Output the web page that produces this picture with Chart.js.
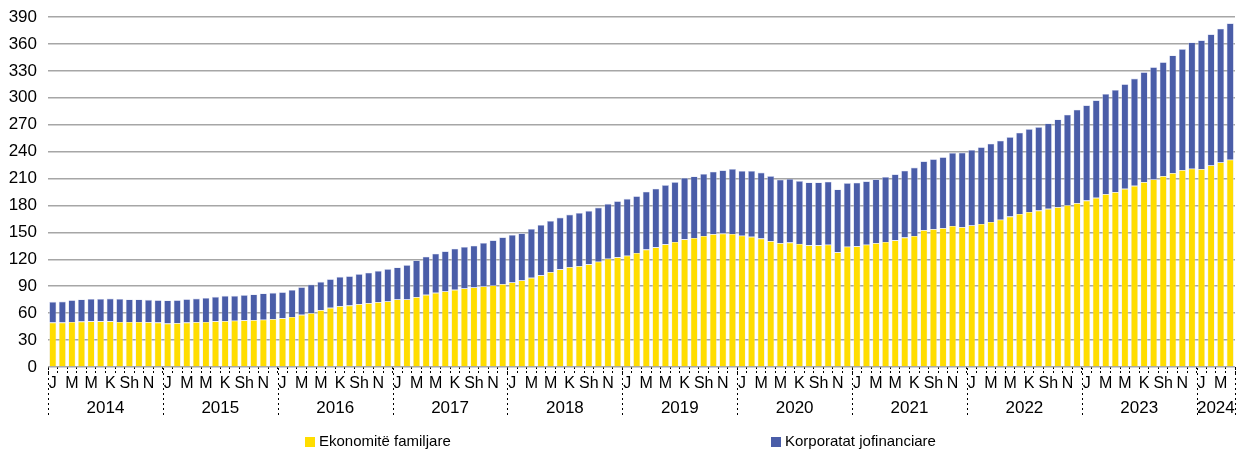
<!DOCTYPE html>
<html>
<head>
<meta charset="utf-8">
<script src="https://cdn.jsdelivr.net/npm/chart.js@4.4.1/dist/chart.umd.min.js"></script>
<style>
  html, body { margin: 0; padding: 0; background: #fff; }
  #wrap { position: relative; width: 1245px; height: 455px; }
  #c { position: absolute; left: 0; top: 0; }
  .lg { position: absolute; top: 432px; font: 15px "Liberation Sans", Arial, sans-serif; color: #000; white-space: nowrap; }
  .lg span.box { display: inline-block; width: 10px; height: 10px; margin-right: 4px; vertical-align: -1px; }
</style>
</head>
<body>
<div id="wrap">
  <canvas id="c" width="1245" height="455"></canvas>
  <div class="lg" style="left:305px"><span class="box" style="background:#FFDD00"></span>Ekonomitë familjare</div>
  <div class="lg" style="left:771px"><span class="box" style="background:#4A5DA8"></span>Korporatat jofinanciare</div>
</div>
<script>
// ---- data ----
const years = ['2014','2015','2016','2017','2018','2019','2020','2021','2022','2023','2024'];
const monthTicks = ['J','','M','','M','','K','','Sh','','N',''];
const monthCount = 124; // Jan 2014 .. Apr 2024

const households = [
  49.5,49.5,50.2,50.6,50.9,50.9,50.9,50.2,50.2,50.2,49.9,49.5,
  48.4,48.8,49.5,49.9,50.2,50.9,51.2,51.6,52.0,52.3,52.7,53.4,
  54.2,55.8,58.1,59.9,63.3,65.9,67.8,68.5,70.0,71.1,72.2,73.0,
  75.2,75.2,77.8,80.4,82.7,84.2,86.0,87.5,88.6,89.7,90.9,92.4,
  94.2,96.5,99.4,102.1,105.8,108.8,111.4,112.5,114.4,117.4,120.7,122.2,
  124.1,127.1,130.8,133.4,136.7,139.4,142.3,143.8,146.1,148.0,148.7,148.2,
  146.3,145.0,143.1,140.1,137.9,138.6,137.1,135.6,135.6,136.3,127.8,134.1,
  134.5,136.3,137.9,139.4,141.2,144.2,146.1,152.4,153.5,154.6,157.2,155.7,
  157.8,159.4,161.6,164.2,167.6,170.6,172.8,174.3,176.2,178.1,180.3,182.5,
  185.5,188.5,192.6,194.8,198.5,201.9,206.0,209.0,212.7,216.1,219.4,220.9,
  220.5,224.6,228.0,231.0
];
const corporates = [
  23.1,23.4,24.2,24.6,25.0,25.0,25.4,25.7,25.0,25.0,24.9,24.9,
  25.7,25.6,26.1,26.4,26.8,27.3,28.1,27.7,28.1,28.5,29.3,29.3,
  29.1,30.0,30.8,32.0,31.6,32.0,32.7,32.7,33.5,33.9,35.0,36.1,
  35.8,38.4,41.0,42.5,43.6,44.7,45.8,46.2,46.6,48.5,50.3,52.1,
  52.9,52.5,54.4,56.2,57.0,57.7,58.5,59.2,59.6,60.3,61.1,62.6,
  63.3,63.3,64.5,65.2,66.0,66.7,68.3,68.6,69.0,69.7,70.5,72.5,
  72.1,73.4,73.5,72.7,70.8,70.9,70.1,70.1,70.1,70.2,70.1,70.9,
  70.9,70.6,71.2,72.3,73.5,74.6,76.1,76.8,78.0,79.1,81.3,83.2,
  84.0,85.6,87.2,87.9,88.6,90.4,92.3,93.0,95.2,97.8,100.8,104.2,
  106.1,108.7,111.7,113.9,116.6,119.5,122.5,125.1,127.0,131.1,134.9,140.8,
  143.5,146.1,149.0,152.0
];
const seriesNames = ['Ekonomitë familjare', 'Korporatat jofinanciare'];
const yTicks = { min: 0, max: 390, step: 30 };

// categories: year-month keys
const categories = [];
for (let i = 0; i < monthCount; i++) {
  categories.push(years[Math.floor(i / 12)] + '-' + String(i % 12 + 1).padStart(2, '0'));
}

const FONT = '"Liberation Sans", Arial, sans-serif';

const yearRow = {
  id: 'yearRow',
  afterDraw(chart) {
    const x = chart.scales.x;
    const ctx = chart.ctx;
    const top = x.top + 1;
    const bottom = 418;
    const edge = (k) => {
      if (k <= 0) return x.left;
      if (k >= monthCount) return x.right;
      return (x.getPixelForValue(k - 1) + x.getPixelForValue(k)) / 2;
    };
    ctx.save();
    ctx.strokeStyle = '#000';
    ctx.lineWidth = 1;
    ctx.setLineDash([2, 3]);
    const bounds = [];
    for (let y = 0; y < years.length; y++) {
      const a = y * 12, b = Math.min(a + 12, monthCount);
      bounds.push([edge(a), edge(b)]);
    }
    const xs = new Set();
    bounds.forEach(([l, r]) => { xs.add(Math.round(l) + 0.5); xs.add(Math.round(r) + 0.5); });
    xs.forEach(px => {
      ctx.beginPath();
      ctx.moveTo(px, top);
      ctx.lineTo(px, bottom);
      ctx.stroke();
    });
    ctx.setLineDash([]);
    ctx.fillStyle = '#000';
    ctx.font = '17px ' + FONT;
    ctx.textAlign = 'center';
    ctx.textBaseline = 'middle';
    bounds.forEach(([l, r], i) => ctx.fillText(years[i], (l + r) / 2, 408));
    ctx.restore();
  }
};

new Chart(document.getElementById('c'), {
  type: 'bar',
  data: {
    labels: categories,
    datasets: [
      { label: seriesNames[0], data: households, backgroundColor: '#FFDD00', borderColor: 'rgba(230,230,240,0.9)', borderWidth: 0.6, barPercentage: 0.74, categoryPercentage: 1 },
      { label: seriesNames[1], data: corporates, backgroundColor: '#4A5DA8', borderColor: 'rgba(200,206,235,0.9)', borderWidth: 0.6, barPercentage: 0.74, categoryPercentage: 1 }
    ]
  },
  options: {
    responsive: false,
    animation: false,
    layout: { padding: { top: 17, right: 10, left: 0, bottom: 0 } },
    plugins: { legend: { display: false }, tooltip: { enabled: false } },
    scales: {
      x: {
        stacked: true,
        offset: true,
        border: { display: false },
        grid: { display: true, drawOnChartArea: false, drawTicks: true, tickLength: 6, color: '#000', tickBorderDash: [2, 2], offset: true },
        ticks: {
          autoSkip: false, maxRotation: 0, minRotation: 0, padding: 1,
          color: '#000', font: { family: FONT, size: 16 },
          callback: (v, i) => monthTicks[i % 12]
        },
        afterFit: (s) => { s.height = 88; }
      },
      y: {
        stacked: true,
        min: yTicks.min, max: yTicks.max,
        border: { display: false },
        grid: { color: '#A6A6A6', lineWidth: 1.5, drawTicks: false },
        ticks: { stepSize: yTicks.step, padding: 11, color: '#000', font: { family: FONT, size: 17, lineHeight: 0.9 } },
        afterFit: (s) => { s.width = 48; s.paddingTop = 0; }
      }
    }
  },
  plugins: [yearRow]
});
</script>
</body>
</html>
